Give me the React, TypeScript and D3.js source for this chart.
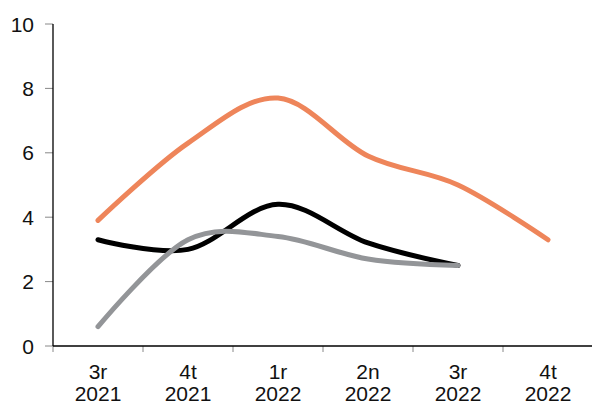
import React from "react";
import * as d3 from "d3";

const categories = ["3r|2021", "4t|2021", "1r|2022", "2n|2022", "3r|2022", "4t|2022"];
const orangeValues = [3.9, 6.3, 7.7, 5.9, 5.0, 3.3];
const blackValues = [3.3, 3.0, 4.4, 3.2, 2.5];
const grayValues = [0.6, 3.3, 3.4, 2.7, 2.5];
const yTicks = [0, 2, 4, 6, 8, 10];

const W = 592;
const H = 405;
const left = 53;
const right = 593;
const top = 24;
const bottom = 346;
const FONT = "'Liberation Sans', Arial, sans-serif";

export default function App() {
  const x = d3.scaleBand<string>().domain(categories).range([left, right]).paddingInner(0).paddingOuter(0);
  const y = d3.scaleLinear().domain([0, 10]).range([bottom, top]);
  const cx = (i: number) => (x(categories[i]) as number) + x.bandwidth() / 2;

  const line = d3
    .line<number>()
    .x((_, i) => cx(i))
    .y((d) => y(d))
    .curve(d3.curveCardinal.tension(0));

  const series = [
    { values: orangeValues, color: "#EE855A" },
    { values: blackValues, color: "#000000" },
    { values: grayValues, color: "#939598" },
  ];

  return (
    <svg
      width={W}
      height={H}
      style={{ position: "absolute", left: 0, top: 0, background: "#fff" }}
      fontFamily={FONT}
    >
      {yTicks.map((t) => (
        <g key={t}>
          <line x1={left - 8} x2={left} y1={y(t)} y2={y(t)} stroke="#888" strokeWidth={1} />
          <text x={34} y={y(t)} dy="0.36em" textAnchor="end" fontSize={21} fill="#111">
            {t}
          </text>
        </g>
      ))}
      {categories.map((c) => (
        <line
          key={"t" + c}
          x1={x(c) as number}
          x2={x(c) as number}
          y1={bottom}
          y2={bottom + 6}
          stroke="#888"
          strokeWidth={1}
        />
      ))}
      {categories.map((c, i) => {
        const [a, b] = c.split("|");
        return (
          <text key={"l" + c} x={cx(i)} textAnchor="middle" fontSize={21} fill="#111">
            <tspan x={cx(i)} y={379}>
              {a}
            </tspan>
            <tspan x={cx(i)} y={401}>
              {b}
            </tspan>
          </text>
        );
      })}
      <line x1={left} x2={left} y1={top} y2={bottom} stroke="#000" strokeWidth={1.3} />
      <line x1={left} x2={right} y1={bottom} y2={bottom} stroke="#000" strokeWidth={1.3} />
      {series.map((s, k) => (
        <path
          key={k}
          d={line(s.values) || ""}
          fill="none"
          stroke={s.color}
          strokeWidth={5}
          strokeLinecap="round"
          strokeLinejoin="round"
        />
      ))}
    </svg>
  );
}
